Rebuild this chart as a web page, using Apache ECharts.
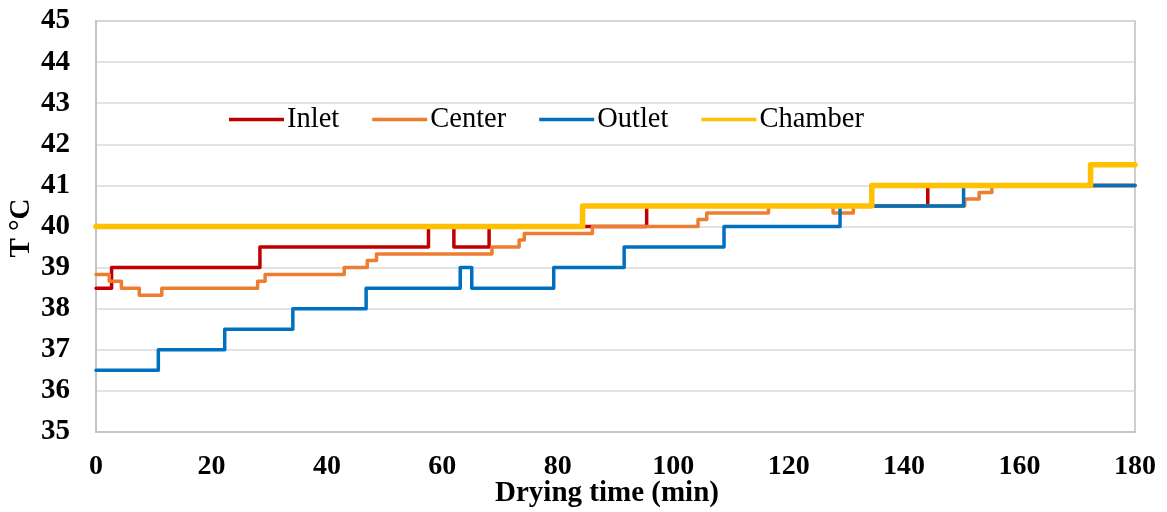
<!DOCTYPE html>
<html>
<head>
<meta charset="utf-8">
<script src="https://cdn.jsdelivr.net/npm/echarts@6/dist/echarts.min.js"></script>
<style>
  html, body { margin: 0; padding: 0; background: #fff; }
  #chart { width: 1167px; height: 512px; }
</style>
</head>
<body>
<div id="chart"></div>
<script>
// Step points: [time (min), temperature (°C)] — value holds until the next point
const seriesNames = ['Inlet', 'Center', 'Outlet', 'Chamber'];
const inlet = [[0,38.5],[2.7,39],[28.4,39.5],[57.6,40],[62.0,39.5],[68.1,40],[95.4,40.5],[144.1,41],[180,41]];
const center = [[0,38.83],[2.3,38.67],[4.4,38.5],[7.5,38.33],[11.4,38.5],[28.0,38.67],[29.3,38.83],[43.0,39.0],[47.0,39.17],[48.6,39.33],[68.6,39.5],[73.3,39.67],[74.2,39.83],[86.0,40.0],[104.3,40.17],[105.8,40.33],[116.5,40.5],[127.7,40.33],[131.2,40.5],[150.5,40.67],[153.0,40.83],[155.2,41.0],[180,41.0]];
const outlet = [[0,36.5],[10.8,37],[22.3,37.5],[34.1,38],[46.8,38.5],[63.1,39],[65.1,38.5],[79.3,39],[91.5,39.5],[108.8,40],[128.9,40.5],[150.3,41],[180,41]];
const chamber = [[0,40],[84.3,40.5],[134.4,41],[172.3,41.5],[180,41.5]];
const xTicks = { min: 0, max: 180, interval: 20 };
const yTicks = { min: 35, max: 45, interval: 1 };
const xTitle = 'Drying time (min)';
const yTitle = 'T °C';

const colors = ['#C00000', '#ED7D31', '#0070C0', '#FFC000'];
const widths = [3.5, 3.5, 3.5, 5.5];
const dataSets = [inlet, center, outlet, chamber];
const FONT = "'Liberation Serif', 'Times New Roman', serif";
const titleStyle = { fontFamily: FONT, fontSize: 29, fontWeight: 'bold', fill: '#000',
                     textAlign: 'center', textVerticalAlign: 'middle' };

const chart = echarts.init(document.getElementById('chart'), null, { renderer: 'canvas' });
chart.setOption({
  animation: false,
  backgroundColor: '#ffffff',
  color: colors,
  grid: {
    left: 96, right: 32, top: 21, bottom: 80,
    outerBoundsMode: 'none', containLabel: false,
    show: true, borderColor: '#BFBFBF', borderWidth: 1.5, backgroundColor: 'transparent'
  },
  legend: {
    data: seriesNames.map(n => ({ name: n, icon: 'rect' })),
    left: 224, top: 100,
    itemWidth: 55, itemHeight: 3.5, itemGap: 33,
    textStyle: { fontFamily: FONT, fontSize: 28.5, color: '#000', padding: [0, 0, 0, -2] }
  },
  graphic: [
    { type: 'text', x: 607, y: 494, silent: true,
      style: Object.assign({ text: xTitle }, titleStyle) },
    { type: 'text', x: 22, y: 228, rotation: Math.PI / 2, silent: true,
      style: Object.assign({ text: yTitle }, titleStyle) }
  ],
  xAxis: {
    type: 'value',
    min: xTicks.min, max: xTicks.max, interval: xTicks.interval,
    axisLine: { show: true, lineStyle: { color: '#BFBFBF', width: 1.5 } },
    axisTick: { show: false },
    splitLine: { show: false },
    axisLabel: { fontFamily: FONT, fontSize: 28, fontWeight: 'bold', color: '#000', margin: 21 }
  },
  yAxis: {
    type: 'value',
    min: yTicks.min, max: yTicks.max, interval: yTicks.interval,
    axisLine: { show: true, lineStyle: { color: '#BFBFBF', width: 1.5 } },
    axisTick: { show: false },
    splitLine: { show: true, lineStyle: { color: '#D9D9D9', width: 1.5 } },
    axisLabel: { fontFamily: FONT, fontSize: 29, fontWeight: 'bold', color: '#000', margin: 26 }
  },
  series: seriesNames.map((n, i) => ({
    name: n,
    type: 'line',
    step: 'end',
    data: dataSets[i],
    symbol: 'none',
    lineStyle: { color: colors[i], width: widths[i], cap: 'round', join: 'round' },
    itemStyle: { color: colors[i] },
    z: 2 + i
  }))
});
</script>
</body>
</html>
